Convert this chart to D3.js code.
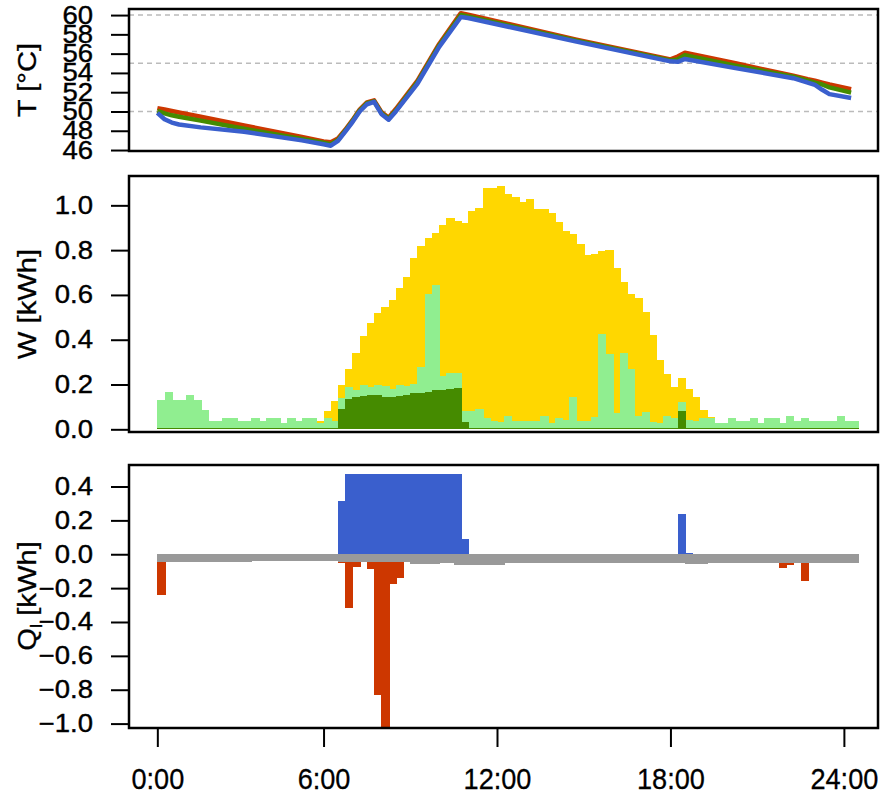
<!DOCTYPE html>
<html>
<head>
<meta charset="utf-8">
<script src="https://cdn.jsdelivr.net/npm/d3@7"></script>
<style>
body { margin: 0; background: #fff; }
text { font-family: "Liberation Sans", Arial, Helvetica, sans-serif; fill: #000; }
</style>
</head>
<body>
<div id="chart"></div>
<script>
// ---- data: 97 quarter-hour slots ----
var tickSlots  = [0, 23, 47, 71, 95];
var tickLabels = ["0:00", "6:00", "12:00", "18:00", "24:00"];

// storage temperatures (break points, slot index)
var tSlots = [0, 1, 2, 3, 6, 12, 20, 23, 24, 25, 26, 27, 28, 29, 30, 31, 32, 33, 36, 39, 42, 43, 58, 71, 72, 73, 80, 88, 90, 91, 92, 93, 96];
var tRed   = [50.35, 50.2, 50.05, 49.9, 49.45, 48.55, 47.35, 46.9, 46.8, 47.2, 48.1, 49.1, 50.2, 50.95, 51.15, 49.95, 49.35, 50.25, 53.2, 57.0, 60.2, 60.05, 57.45, 55.4, 55.7, 56.1, 55.0, 53.7, 53.35, 53.2, 53.0, 52.8, 52.3];
var tGreen = [50.05, 49.8, 49.6, 49.45, 49.05, 48.2, 47.15, 46.75, 46.6, 47.05, 48.0, 49.0, 50.1, 50.85, 51.05, 49.85, 49.25, 50.1, 53.05, 56.85, 60.0, 59.85, 57.35, 55.3, 55.4, 55.85, 54.75, 53.6, 53.2, 53.0, 52.8, 52.5, 51.95];
var tBlue  = [49.85, 49.2, 48.85, 48.65, 48.35, 47.9, 47.0, 46.6, 46.45, 46.95, 47.9, 48.9, 50.0, 50.75, 51.0, 49.75, 49.15, 50.0, 52.9, 56.7, 59.8, 59.7, 57.25, 55.2, 55.15, 55.45, 54.5, 53.45, 53.0, 52.75, 52.25, 51.8, 51.4];

// energy W [kWh]
var wPV = [0, 0, 0, 0, 0, 0, 0, 0, 0, 0, 0, 0, 0, 0, 0, 0, 0, 0, 0, 0, 0, 0, 0.037, 0.083, 0.126,
  0.20, 0.27, 0.34, 0.417, 0.473, 0.518, 0.548, 0.577, 0.632, 0.68, 0.765, 0.817, 0.854, 0.877, 0.912,
  0.942, 0.93, 0.922, 0.976, 0.99, 1.076, 1.076, 1.088, 1.05, 1.039, 1.016, 1.028, 0.982, 0.985, 0.964,
  0.924, 0.887, 0.873, 0.826, 0.778, 0.784, 0.797, 0.80, 0.719, 0.658, 0.603, 0.585, 0.524, 0.422, 0.309,
  0.247, 0.19, 0.229, 0.181, 0.144, 0.085, 0.054, 0, 0, 0, 0, 0, 0, 0, 0, 0, 0, 0, 0, 0, 0, 0, 0, 0, 0, 0, 0];
var wLoad = [0.13, 0.165, 0.13, 0.13, 0.152, 0.13, 0.088, 0.037, 0.037, 0.049, 0.049, 0.037, 0.037, 0.049, 0.037,
  0.049, 0.049, 0.027, 0.049, 0.037, 0.049, 0.049, 0.027, 0.049, 0.037, 0.14, 0.19, 0.175, 0.197, 0.19,
  0.197, 0.193, 0.178, 0.197, 0.193, 0.204, 0.279, 0.605, 0.643, 0.238, 0.25, 0.25, 0.082, 0.082, 0.091,
  0.049, 0.038, 0.032, 0.059, 0.038, 0.038, 0.038, 0.038, 0.059, 0.027, 0.049, 0.043, 0.143, 0.038, 0.038,
  0.054, 0.425, 0.336, 0.071, 0.339, 0.268, 0.059, 0.079, 0.034, 0.027, 0.059, 0.049, 0.122, 0.041, 0.037,
  0.049, 0.049, 0.027, 0.027, 0.049, 0.037, 0.037, 0.049, 0.027, 0.049, 0.049, 0.027, 0.059, 0.037, 0.049,
  0.037, 0.037, 0.037, 0.037, 0.059, 0.037, 0.037];
var wHeat = [0, 0, 0, 0, 0, 0, 0, 0, 0, 0, 0, 0, 0, 0, 0, 0, 0, 0, 0, 0, 0, 0, 0, 0, 0,
  0.09, 0.136, 0.145, 0.149, 0.152, 0.152, 0.145, 0.145, 0.149, 0.155, 0.16, 0.164, 0.168, 0.175, 0.175,
  0.18, 0.183, 0.031, 0, 0, 0, 0, 0, 0, 0, 0, 0, 0, 0, 0, 0, 0, 0, 0, 0, 0, 0, 0, 0, 0, 0, 0, 0, 0, 0,
  0, 0, 0.083, 0, 0, 0, 0, 0, 0, 0, 0, 0, 0, 0, 0, 0, 0, 0, 0, 0, 0, 0, 0, 0, 0, 0, 0];

// heat flows Q [kWh]
var qIn = [0, 0, 0, 0, 0, 0, 0, 0, 0, 0, 0, 0, 0, 0, 0, 0, 0, 0, 0, 0, 0, 0, 0, 0, 0,
  0.315, 0.474, 0.474, 0.474, 0.474, 0.474, 0.474, 0.474, 0.474, 0.474, 0.474, 0.474, 0.474, 0.474, 0.474,
  0.474, 0.474, 0.088, 0, 0, 0, 0, 0, 0, 0, 0, 0, 0, 0, 0, 0, 0, 0, 0, 0, 0, 0, 0, 0, 0, 0, 0, 0, 0, 0,
  0, 0, 0.236, 0.006, 0, 0, 0, 0, 0, 0, 0, 0, 0, 0, 0, 0, 0, 0, 0, 0, 0, 0, 0, 0, 0, 0, 0];
var qOut = [-0.24, 0, 0, 0, 0, 0, 0, 0, 0, 0, 0, 0, 0, 0, 0, 0, 0, 0, 0, 0, 0, 0, 0, 0, 0,
  -0.05, -0.315, -0.077, 0, -0.087, -0.831, -1.05, -0.177, -0.138, 0, 0, 0, 0, 0, 0,
  0, 0, 0, 0, 0, 0, 0, 0, 0, 0, 0, 0, 0, 0, 0, 0, 0, 0, 0, 0, 0, 0, 0, 0, 0, 0, 0, 0, 0, 0,
  0, 0, 0, 0, 0, 0, 0, 0, 0, 0, 0, 0, 0, 0, 0, 0, -0.079, -0.065, 0, -0.158, 0, 0, 0, -0.045, -0.045];
var qLoss = [-0.045, -0.045, -0.045, -0.045, -0.045, -0.045, -0.045, -0.045, -0.045, -0.045, -0.045, -0.045, -0.045,
  -0.04, -0.04, -0.04, -0.04, -0.04, -0.04, -0.04, -0.04, -0.04, -0.04, -0.04, -0.04,
  -0.045, -0.045, -0.045, -0.045, -0.045, -0.045, -0.045, -0.045, -0.045, -0.045,
  -0.058, -0.058, -0.058, -0.058, -0.053, -0.053,
  -0.063, -0.063, -0.063, -0.063, -0.063, -0.063, -0.063,
  -0.053, -0.053, -0.053, -0.053, -0.053, -0.053, -0.053, -0.053, -0.053, -0.053, -0.053, -0.053,
  -0.053, -0.053, -0.053, -0.053, -0.053, -0.053, -0.053, -0.053, -0.053, -0.053, -0.053,
  -0.049, -0.049, -0.055, -0.055, -0.055,
  -0.049, -0.049, -0.049, -0.049, -0.049, -0.049, -0.049, -0.049, -0.049, -0.049, -0.049,
  -0.049, -0.049, -0.049, -0.049, -0.049, -0.049, -0.049, -0.049, -0.049, -0.049];

// ---- layout ----
var width = 881, height = 796;
var left = 129, right = 878;
var p1 = {top: 9, bottom: 151},
    p2 = {top: 176, bottom: 432},
    p3 = {top: 465, bottom: 728};

var svg = d3.select("#chart")
  .append("svg")
    .attr("width", width)
    .attr("height", height);

// x in slot units
var x = d3.scaleLinear()
  .domain([-3.92, 99.72])
  .range([left, right]);
var bw = x(1) - x(0);

var yT = d3.scaleLinear().domain([45.9, 60.63]).range([p1.bottom, p1.top]);
var yW = d3.scaleLinear().domain([-0.012, 1.131]).range([p2.bottom, p2.top]);
var yQ = d3.scaleLinear().domain([-1.026, 0.527]).range([p3.bottom, p3.top]);

// stretch / squeeze a text to a share of its natural width
function stretch(sel, k) {
  sel.each(function() {
    var w = this.getComputedTextLength();
    d3.select(this)
      .attr("textLength", w * k)
      .attr("lengthAdjust", "spacingAndGlyphs");
  });
}

function yAxis(scale, ticks, fmt) {
  var g = svg.append("g")
    .attr("transform", "translate(" + left + ",0)")
    .call(d3.axisLeft(scale).tickValues(ticks).tickFormat(fmt).tickSize(18));
  g.select(".domain").remove();
  g.selectAll(".tick line").attr("stroke", "#000").attr("stroke-width", 2);
  g.selectAll(".tick text")
    .attr("font-size", 25)
    .attr("x", -36)
    .attr("stroke", "#000")
    .attr("stroke-width", 0.4)
    .style("font-family", "'Liberation Sans', Arial, sans-serif")
    .call(stretch, 1.1);
  return g;
}

function yTitle(yc, label, sub) {
  var t = svg.append("text")
    .attr("transform", "translate(27," + yc + ") rotate(-90) scale(1.17,1)")
    .attr("text-anchor", "middle")
    .attr("dy", "0.35em")
    .attr("font-size", 25)
    .attr("stroke", "#000")
    .attr("stroke-width", 0.3);
  if (sub) {
    t.append("tspan").text(label[0]);
    t.append("tspan").attr("font-size", 16).attr("dy", 6).text(sub);
    t.append("tspan").attr("dy", -6).text(label.slice(1));
  } else {
    t.text(label);
  }
}

function bars(g, values, yScale, color, minH) {
  g.selectAll(null)
    .data(values)
    .enter().append("rect")
      .attr("x", function(d, i) { return x(i); })
      .attr("width", bw + 1)
      .attr("y", function(d) { return Math.min(yScale(d), yScale(0)) - (minH && d == 0 ? minH : 0); })
      .attr("height", function(d) { return Math.max(Math.abs(yScale(d) - yScale(0)), minH || 0); })
      .attr("fill", color)
      .attr("shape-rendering", "crispEdges");
}

function box(p) {
  svg.append("rect")
    .attr("x", left)
    .attr("y", p.top)
    .attr("width", right - left)
    .attr("height", p.bottom - p.top)
    .attr("fill", "none")
    .attr("stroke", "#000")
    .attr("stroke-width", 2.5);
}

// ---- panel 1: temperatures ----
svg.selectAll(".grid")
  .data([50, 55, 60])
  .enter().append("line")
    .attr("x1", left).attr("x2", right)
    .attr("y1", function(d) { return yT(d); })
    .attr("y2", function(d) { return yT(d); })
    .attr("stroke", "#bbbbbb")
    .attr("stroke-width", 1.5)
    .attr("stroke-dasharray", "5,4");

var tLine = d3.line()
  .x(function(d) { return x(d[0]); })
  .y(function(d) { return yT(d[1]); });

[[tRed, "#CD3700"], [tGreen, "#458B00"], [tBlue, "#3A5FCD"]].forEach(function(s) {
  svg.append("path")
    .datum(tSlots.map(function(t, i) { return [t, s[0][i]]; }))
    .attr("d", tLine)
    .attr("fill", "none")
    .attr("stroke", s[1])
    .attr("stroke-width", 4.5)
    .attr("stroke-linejoin", "round");
});

yAxis(yT, d3.range(46, 61, 2), d3.format("d"));
yTitle(80, "T [°C]");
box(p1);

// ---- panel 2: energy ----
var g2 = svg.append("g");
bars(g2, wPV, yW, "#FFD700");
bars(g2, wLoad, yW, "#90EE90");
bars(g2, wHeat, yW, "#458B00", 1);

yAxis(yW, [0, 0.2, 0.4, 0.6, 0.8, 1.0], d3.format(".1f"));
yTitle(304, "W [kWh]");
box(p2);

// ---- panel 3: heat flows ----
svg.append("clipPath")
  .attr("id", "clip3")
  .append("rect")
    .attr("x", left).attr("y", p3.top)
    .attr("width", right - left).attr("height", p3.bottom - p3.top);

var g3 = svg.append("g").attr("clip-path", "url(#clip3)");
bars(g3, qOut, yQ, "#CD3700");
bars(g3, qIn, yQ, "#3A5FCD");
bars(g3, qLoss, yQ, "#999999");

yAxis(yQ, [-1.0, -0.8, -0.6, -0.4, -0.2, 0, 0.2, 0.4], function(d) { return d3.format(".1f")(d).replace("-", "\u2212"); });
yTitle(596, "Q [kWh]", "l");
box(p3);

// x axis (bottom only)
var gx = svg.append("g")
  .attr("transform", "translate(0," + p3.bottom + ")")
  .call(d3.axisBottom(x).tickValues(tickSlots)
    .tickFormat(function(d, i) { return tickLabels[i]; })
    .tickSize(19));
gx.select(".domain").remove();
gx.selectAll(".tick line").attr("stroke", "#000").attr("stroke-width", 2);
gx.selectAll(".tick text")
  .attr("font-size", 29.5)
  .attr("y", 61)
  .attr("dy", 0)
  .attr("stroke", "#000")
  .attr("stroke-width", 0.3)
  .style("font-family", "'Liberation Sans', Arial, sans-serif")
  .call(stretch, 0.92);
</script>
</body>
</html>
